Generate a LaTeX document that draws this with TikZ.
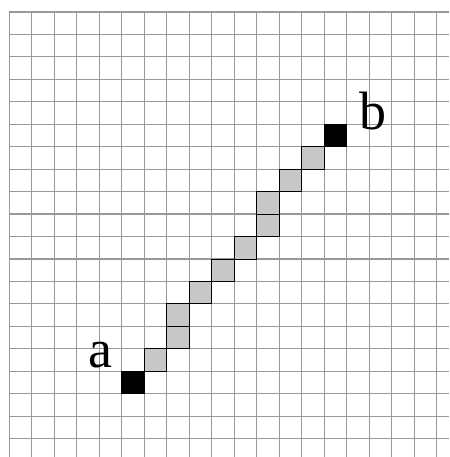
\documentclass[tikz,border=0pt]{standalone}
\usepackage{fontspec}
\setmainfont{Liberation Serif}
\begin{document}
\begin{tikzpicture}[x=1pt,y=-1pt,
  gridline/.style={draw=black!40,line width=1.2pt},
  graycell/.style={fill=black!22,draw=black,line width=0.9pt},
  blackcell/.style={fill=black,draw=black,line width=0.9pt},
  lbl/.style={inner sep=0pt,anchor=base,font=\fontsize{54}{60}\selectfont}]
\useasboundingbox (0,0) rectangle (449,457);
\def\ox{9.3}\def\oy{12}\def\cw{22.5}\def\ch{22.45}
\foreach \i in {0,...,19}{
  \draw[gridline] ({\ox+\cw*\i},\oy) -- ({\ox+\cw*\i},457);
  \draw[gridline] (\ox,{\oy+\ch*\i}) -- (449,{\oy+\ch*\i});
}
\foreach \c/\r in {6/15,7/14,7/13,8/12,9/11,10/10,11/9,11/8,12/7,13/6}{
  \draw[graycell] ({\ox+\cw*\c},{\oy+\ch*\r}) rectangle ++(\cw,\ch);
}
\foreach \c/\r in {5/16,14/5}{
  \draw[blackcell] ({\ox+\cw*\c},{\oy+\ch*\r}) rectangle ++(\cw,\ch);
}
\node[lbl] (a) at (100,367) {a};
\node[lbl] (b) at (372.5,130) {b};
\end{tikzpicture}
\end{document}
